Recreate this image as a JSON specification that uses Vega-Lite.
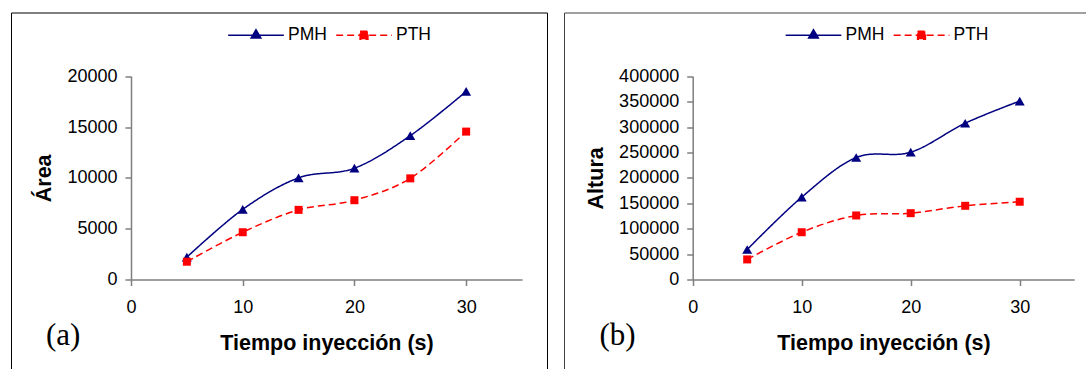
{
  "$schema": "https://vega.github.io/schema/vega-lite/v6.json",
  "padding": {"left": 10, "top": 5.5, "right": 0, "bottom": 0},
  "background": "white",
  "datasets": {
    "area": [
      {"t": 5, "serie": "PMH", "v": 2200},
      {"t": 10, "serie": "PMH", "v": 6900},
      {"t": 15, "serie": "PMH", "v": 10000},
      {"t": 20, "serie": "PMH", "v": 10950},
      {"t": 25, "serie": "PMH", "v": 14150},
      {"t": 30, "serie": "PMH", "v": 18500},
      {"t": 5, "serie": "PTH", "v": 1750},
      {"t": 10, "serie": "PTH", "v": 4650},
      {"t": 15, "serie": "PTH", "v": 6850},
      {"t": 20, "serie": "PTH", "v": 7800},
      {"t": 25, "serie": "PTH", "v": 9950},
      {"t": 30, "serie": "PTH", "v": 14550}
    ],
    "altura": [
      {"t": 5, "serie": "PMH", "v": 59000},
      {"t": 10, "serie": "PMH", "v": 162000},
      {"t": 15, "serie": "PMH", "v": 240000},
      {"t": 20, "serie": "PMH", "v": 250500},
      {"t": 25, "serie": "PMH", "v": 307500},
      {"t": 30, "serie": "PMH", "v": 351000},
      {"t": 5, "serie": "PTH", "v": 39500},
      {"t": 10, "serie": "PTH", "v": 93000},
      {"t": 15, "serie": "PTH", "v": 126000},
      {"t": 20, "serie": "PTH", "v": 130500},
      {"t": 25, "serie": "PTH", "v": 145000},
      {"t": 30, "serie": "PTH", "v": 153000}
    ]
  },
  "config": {
    "font": "Liberation Sans",
    "view": {"stroke": "#000000", "strokeWidth": 1},
    "axis": {
      "grid": false,
      "domainColor": "#7f7f7f",
      "domainWidth": 1.5,
      "tickColor": "#7f7f7f",
      "tickWidth": 1.5,
      "tickSize": 6,
      "labelFont": "Liberation Sans",
      "labelFontSize": 18,
      "labelColor": "#000000",
      "labelFlush": false,
      "labelOverlap": false,
      "titleFont": "Liberation Sans",
      "titleFontSize": 21.5,
      "titleFontWeight": "bold",
      "titleColor": "#000000"
    }
  },
  "spacing": 17,
  "bounds": "flush",
  "resolve": {
    "scale": {"color": "independent", "strokeDash": "independent"},
    "legend": {"color": "independent"}
  },
  "hconcat": [
    {
      "width": 536,
      "height": 380,
      "view": {"stroke": "#000000"},
      "title": {"text": "(a)", "orient": "bottom", "anchor": "start", "frame": "group", "offset": -48, "dx": 35, "font": "Liberation Serif", "fontSize": 31, "fontWeight": "normal", "baseline": "alphabetic", "color": "#000000"},
      "data": {"name": "area"},
      "encoding": {
        "x": {"field": "t", "type": "quantitative",
          "scale": {"domain": [0, 35], "range": [120, 511]},
          "axis": {"values": [0, 10, 20, 30], "title": "Tiempo inyección (s)", "offset": -113, "labelPadding": 13, "titlePadding": 16}},
        "y": {"field": "v", "type": "quantitative",
          "scale": {"domain": [0, 20000], "range": [267, 63.7]},
          "axis": {"values": [0, 5000, 10000, 15000, 20000], "format": "d", "title": "Área", "offset": -120, "labelPadding": 8, "titlePadding": 11}},
        "color": {"field": "serie", "type": "nominal",
          "scale": {"domain": ["PMH", "PTH"], "range": ["#000080", "#FF0000"]},
          "legend": {
            "orient": "none", "legendX": 216, "legendY": -6.5, "direction": "horizontal", "title": null,
            "symbolSize": 3100, "labelFontSize": 17.5, "labelFont": "Liberation Sans", "labelColor": "#000000",
            "labelOffset": 3, "columnPadding": 6, "padding": 0, "symbolStrokeWidth": 1.5,
            "encoding": {"symbols": {
              "shape": {"value": {"expr": "datum.value === 'PMH' ? 'M-1,0H1M-0.175,0.1L0.175,0.1L0,-0.2Z' : 'M-1,0H1M-0.14,-0.14H0.14V0.14H-0.14Z'"}},
              "fill": {"value": {"expr": "datum.value === 'PMH' ? '#000080' : '#FF0000'"}},
              "stroke": {"value": {"expr": "datum.value === 'PMH' ? '#000080' : '#FF0000'"}},
              "strokeDash": {"value": {"expr": "datum.value === 'PMH' ? [1, 0] : [5, 4]"}},
              "size": {"value": 3100},
              "opacity": {"value": 1},
              "fillOpacity": {"value": 1},
              "strokeOpacity": {"value": 1}
            }}
          }}
      },
      "layer": [
        {"mark": {"type": "line", "interpolate": "cardinal", "strokeWidth": 1.5},
          "encoding": {
            "strokeDash": {"field": "serie", "type": "nominal", "scale": {"domain": ["PMH", "PTH"], "range": [[1, 0], [7, 4]]}, "legend": null}
          }},
        {"transform": [{"filter": "datum.serie === 'PMH'"}],
          "mark": {"type": "point", "filled": true, "opacity": 1, "shape": "triangle-up", "size": 100}},
        {"transform": [{"filter": "datum.serie === 'PTH'"}],
          "mark": {"type": "point", "filled": true, "opacity": 1, "shape": "square", "size": 64}}
      ]
    },
    {
      "width": 540,
      "height": 380,
      "view": {"stroke": "#404040"},
      "title": {"text": "(b)", "orient": "bottom", "anchor": "start", "frame": "group", "offset": -48, "dx": 35.4, "font": "Liberation Serif", "fontSize": 31, "fontWeight": "normal", "baseline": "alphabetic", "color": "#000000"},
      "data": {"name": "altura"},
      "encoding": {
        "x": {"field": "t", "type": "quantitative",
          "scale": {"domain": [0, 35], "range": [128.7, 510.2]},
          "axis": {"values": [0, 10, 20, 30], "title": "Tiempo inyección (s)", "offset": -113, "labelPadding": 13, "titlePadding": 16}},
        "y": {"field": "v", "type": "quantitative",
          "scale": {"domain": [0, 400000], "range": [267, 63.7]},
          "axis": {"values": [0, 50000, 100000, 150000, 200000, 250000, 300000, 350000, 400000], "format": "d", "title": "Altura", "offset": -128.7, "labelPadding": 8, "titlePadding": 11}},
        "color": {"field": "serie", "type": "nominal",
          "scale": {"domain": ["PMH", "PTH"], "range": ["#000080", "#FF0000"]},
          "legend": {
            "orient": "none", "legendX": 220.5, "legendY": -6.5, "direction": "horizontal", "title": null,
            "symbolSize": 3100, "labelFontSize": 17.5, "labelFont": "Liberation Sans", "labelColor": "#000000",
            "labelOffset": 3, "columnPadding": 6, "padding": 0, "symbolStrokeWidth": 1.5,
            "encoding": {"symbols": {
              "shape": {"value": {"expr": "datum.value === 'PMH' ? 'M-1,0H1M-0.175,0.1L0.175,0.1L0,-0.2Z' : 'M-1,0H1M-0.14,-0.14H0.14V0.14H-0.14Z'"}},
              "fill": {"value": {"expr": "datum.value === 'PMH' ? '#000080' : '#FF0000'"}},
              "stroke": {"value": {"expr": "datum.value === 'PMH' ? '#000080' : '#FF0000'"}},
              "strokeDash": {"value": {"expr": "datum.value === 'PMH' ? [1, 0] : [5, 4]"}},
              "size": {"value": 3100},
              "opacity": {"value": 1},
              "fillOpacity": {"value": 1},
              "strokeOpacity": {"value": 1}
            }}
          }}
      },
      "layer": [
        {"mark": {"type": "line", "interpolate": "cardinal", "strokeWidth": 1.5},
          "encoding": {
            "strokeDash": {"field": "serie", "type": "nominal", "scale": {"domain": ["PMH", "PTH"], "range": [[1, 0], [7, 4]]}, "legend": null}
          }},
        {"transform": [{"filter": "datum.serie === 'PMH'"}],
          "mark": {"type": "point", "filled": true, "opacity": 1, "shape": "triangle-up", "size": 100}},
        {"transform": [{"filter": "datum.serie === 'PTH'"}],
          "mark": {"type": "point", "filled": true, "opacity": 1, "shape": "square", "size": 64}}
      ]
    }
  ]
}
